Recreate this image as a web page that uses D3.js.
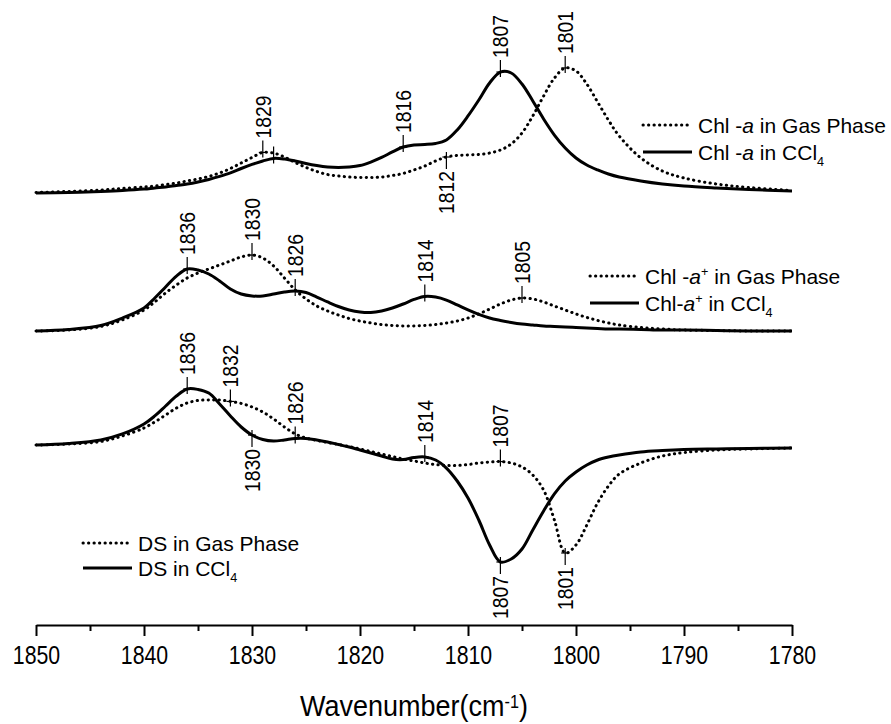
<!DOCTYPE html>
<html>
<head>
<meta charset="utf-8">
<script src="https://cdn.jsdelivr.net/npm/d3@7"></script>
<style>
  body { margin: 0; background: #fff; }
  svg text { font-family: "Liberation Sans", Arial, Helvetica, sans-serif; fill: #000; }
</style>
</head>
<body>
<svg id="chart" width="891" height="724"></svg>
<script>
// Wavenumber grid (cm^-1) shared by every spectrum
const wavenumbers = [1850, 1847, 1844, 1842,
  1840, 1839, 1838, 1837, 1836, 1835, 1834, 1833, 1832, 1831,
  1830, 1829, 1828, 1827, 1826, 1825, 1824, 1823, 1822, 1821,
  1820, 1819, 1818, 1817, 1816, 1815, 1814, 1813, 1812, 1811,
  1810, 1809, 1808, 1807, 1806, 1805, 1804, 1803, 1802, 1801,
  1800, 1799, 1798, 1797, 1796,
  1794, 1792, 1790, 1787, 1784, 1780];

// Chl-a, intensity (a.u.)
const chlaGas = [0.004, 0.013, 0.025, 0.038,
  0.050, 0.058, 0.071, 0.083, 0.100, 0.117, 0.138, 0.167, 0.204, 0.250,
  0.296, 0.338, 0.333, 0.300, 0.254, 0.213, 0.179, 0.154, 0.142, 0.133,
  0.129, 0.129, 0.133, 0.146, 0.163, 0.192, 0.225, 0.267, 0.300, 0.313,
  0.317, 0.321, 0.333, 0.358, 0.408, 0.500, 0.642, 0.808, 0.958, 1.042,
  1.017, 0.908, 0.758, 0.608, 0.475,
  0.292, 0.183, 0.125, 0.075, 0.046, 0.021];
const chlaCCl4 = [0.000, 0.004, 0.013, 0.021,
  0.033, 0.042, 0.050, 0.063, 0.075, 0.092, 0.113, 0.138, 0.167, 0.204,
  0.238, 0.267, 0.288, 0.283, 0.267, 0.246, 0.229, 0.217, 0.213, 0.217,
  0.229, 0.258, 0.296, 0.342, 0.383, 0.400, 0.404, 0.413, 0.442, 0.525,
  0.642, 0.775, 0.917, 1.008, 1.000, 0.908, 0.767, 0.617, 0.483, 0.375,
  0.292, 0.233, 0.192, 0.158, 0.133,
  0.100, 0.075, 0.058, 0.042, 0.029, 0.017];

// Chl-a+ cation, intensity (a.u.)
const chlaPlusGas = [0.000, 0.008, 0.038, 0.092,
  0.175, 0.242, 0.317, 0.383, 0.442, 0.483, 0.517, 0.550, 0.583, 0.617,
  0.633, 0.608, 0.542, 0.442, 0.342, 0.267, 0.208, 0.167, 0.133, 0.104,
  0.083, 0.067, 0.054, 0.046, 0.042, 0.042, 0.046, 0.054, 0.067, 0.083,
  0.108, 0.142, 0.183, 0.225, 0.258, 0.275, 0.267, 0.242, 0.208, 0.175,
  0.142, 0.113, 0.088, 0.067, 0.050,
  0.029, 0.017, 0.008, 0.004, 0.000, 0.000];
const chlaPlusCCl4 = [0.000, 0.013, 0.046, 0.108,
  0.192, 0.275, 0.367, 0.458, 0.517, 0.508, 0.475, 0.417, 0.350, 0.308,
  0.292, 0.292, 0.308, 0.325, 0.333, 0.321, 0.283, 0.242, 0.204, 0.175,
  0.158, 0.154, 0.167, 0.192, 0.225, 0.263, 0.288, 0.283, 0.258, 0.217,
  0.175, 0.138, 0.108, 0.088, 0.071, 0.058, 0.050, 0.042, 0.038, 0.033,
  0.029, 0.025, 0.021, 0.017, 0.017,
  0.013, 0.008, 0.008, 0.004, 0.000, 0.000];

// Difference spectra (DS), intensity (a.u.)
const dsGas = [0.000, 0.008, 0.029, 0.075,
  0.142, 0.192, 0.250, 0.308, 0.350, 0.371, 0.375, 0.375, 0.363, 0.346,
  0.317, 0.275, 0.217, 0.150, 0.092, 0.058, 0.038, 0.021, 0.004, -0.013,
  -0.033, -0.054, -0.075, -0.096, -0.117, -0.133, -0.150, -0.163, -0.171, -0.171,
  -0.163, -0.150, -0.142, -0.138, -0.150, -0.183, -0.250, -0.375, -0.625, -0.900,
  -0.833, -0.667, -0.483, -0.342, -0.242,
  -0.150, -0.092, -0.063, -0.042, -0.033, -0.025];
const dsCCl4 = [0.000, 0.013, 0.042, 0.092,
  0.175, 0.242, 0.325, 0.408, 0.467, 0.463, 0.433, 0.342, 0.242, 0.150,
  0.083, 0.046, 0.033, 0.042, 0.054, 0.054, 0.042, 0.025, 0.004, -0.017,
  -0.042, -0.067, -0.092, -0.117, -0.121, -0.104, -0.100, -0.125, -0.192, -0.300,
  -0.442, -0.625, -0.833, -0.975, -0.950, -0.867, -0.708, -0.550, -0.408, -0.300,
  -0.225, -0.167, -0.125, -0.100, -0.083,
  -0.058, -0.046, -0.038, -0.033, -0.029, -0.025];

// Axis ticks
const majorTicks = [1850, 1840, 1830, 1820, 1810, 1800, 1790, 1780];
const minorTicks = [1845, 1835, 1825, 1815, 1805, 1795, 1785];

// Legend entries per panel (dotted = gas phase, solid = CCl4)
const legendGas = [
  [{t: "Chl -"}, {t: "a", it: true}, {t: " in Gas Phase"}],
  [{t: "Chl -"}, {t: "a", it: true}, {t: "+", sup: true}, {t: " in Gas Phase"}],
  [{t: "DS in Gas Phase"}]
];
const legendCCl4 = [
  [{t: "Chl -"}, {t: "a", it: true}, {t: " in CCl"}, {t: "4", sub: true}],
  [{t: "Chl-"}, {t: "a", it: true}, {t: "+", sup: true}, {t: " in CCl"}, {t: "4", sub: true}],
  [{t: "DS in CCl"}, {t: "4", sub: true}]
];

// Band positions marked on the spectra
const bandPanel  = [0, 0, 0, 0, 0, 0, 1, 1, 1, 1, 1, 2, 2, 2, 2, 2, 2, 2, 2];
const bandSeries = ["gas", "ccl4", "ccl4", "gas", "ccl4", "gas",
                    "ccl4", "gas", "ccl4", "ccl4", "gas",
                    "ccl4", "gas", "ccl4", "ccl4", "ccl4", "gas", "ccl4", "gas"];
const bandWn     = [1829, 1828, 1816, 1812, 1807, 1801,
                    1836, 1830, 1826, 1814, 1805,
                    1836, 1832, 1830, 1826, 1814, 1807, 1807, 1801];
const bandSide   = ["up", "up", "up", "down", "up", "up",
                    "up", "up", "up", "up", "up",
                    "up", "up", "down", "up", "up", "up", "down", "down"];
const bandShowLabel = [true, false, true, true, true, true,
                       true, true, true, true, true,
                       true, true, true, true, true, true, true, true];

// ---- layout ----
const svg = d3.select("#chart");
const x = d3.scaleLinear().domain([1850, 1780]).range([36, 792]);
const y = d3.scaleLinear().domain([0, 5.2083]).range([625, 0]);

const panels = [
  {gas: chlaGas, ccl4: chlaCCl4, offset: 3.6, legend: {x: 643, y: 125, gap: 27}},
  {gas: chlaPlusGas, ccl4: chlaPlusCCl4, offset: 2.45, legend: {x: 590, y: 276, gap: 27}},
  {gas: dsGas, ccl4: dsCCl4, offset: 1.5, legend: {x: 83, y: 543, gap: 25}}
];

const lineGen = off => d3.line()
  .x((d, i) => x(wavenumbers[i]))
  .y(d => y(d + off))
  .curve(d3.curveCatmullRom.alpha(0.5));

const dotted = sel => sel.attr("fill", "none").attr("stroke", "#000")
  .attr("stroke-width", 3).attr("stroke-linecap", "round")
  .attr("stroke-dasharray", "0.3 5.2");
const solid = sel => sel.attr("fill", "none").attr("stroke", "#000")
  .attr("stroke-width", 3).attr("stroke-linejoin", "round");

function richText(sel, parts, size) {
  let shift = 0;
  parts.forEach(p => {
    const ts = sel.append("tspan").text(p.t);
    let target = 0;
    if (p.sup) { target = -8; ts.attr("font-size", size * 0.6); }
    if (p.sub) { target = 6; ts.attr("font-size", size * 0.6); }
    if (p.it) ts.attr("font-style", "italic");
    if (target !== shift) { ts.attr("dy", target - shift); shift = target; }
  });
}

panels.forEach((p, k) => {
  svg.append("path").datum(p.gas).attr("d", lineGen(p.offset)).call(dotted);
  svg.append("path").datum(p.ccl4).attr("d", lineGen(p.offset)).call(solid);

  const L = p.legend, len = 49, fs = 21;
  svg.append("line").attr("x1", L.x).attr("x2", L.x + len)
    .attr("y1", L.y).attr("y2", L.y).call(dotted);
  svg.append("line").attr("x1", L.x).attr("x2", L.x + len)
    .attr("y1", L.y + L.gap).attr("y2", L.y + L.gap).call(solid);
  richText(svg.append("text").attr("x", L.x + len + 6).attr("y", L.y + 7.5)
    .attr("font-size", fs), legendGas[k], fs);
  richText(svg.append("text").attr("x", L.x + len + 6).attr("y", L.y + L.gap + 7.5)
    .attr("font-size", fs), legendCCl4[k], fs);
});

// band markers and their wavenumber labels
const bandG = svg.append("g");
bandWn.forEach((wn, i) => {
  const p = panels[bandPanel[i]];
  const vals = bandSeries[i] === "gas" ? p.gas : p.ccl4;
  const idx = wavenumbers.indexOf(wn);
  const px = x(wn), py = y(vals[idx] + p.offset);
  const up = bandSide[i] === "up";
  bandG.append("line").attr("x1", px).attr("x2", px)
    .attr("y1", up ? py - 12 : py - 5).attr("y2", up ? py + 5 : py + 12)
    .attr("stroke", "#000").attr("stroke-width", 1.2);
  bandG.append("line").attr("x1", px - 4).attr("x2", px + 4)
    .attr("y1", py).attr("y2", py)
    .attr("stroke", "#000").attr("stroke-width", 1.2);
  if (bandShowLabel[i]) {
    const ty = up ? py - 14 : py + 14;
    bandG.append("text")
      .attr("transform", `translate(${px},${ty}) rotate(-90) scale(0.88,1)`)
      .attr("text-anchor", up ? "start" : "end")
      .attr("dy", "0.36em")
      .attr("font-size", 22)
      .text(wn);
  }
});

// x axis
const axisY = y(0);
const ax = svg.append("g").attr("transform", `translate(0,${axisY})`)
  .call(d3.axisBottom(x).tickValues(majorTicks).tickSize(11).tickSizeOuter(0)
    .tickFormat(d3.format("d")));
ax.select(".domain").attr("stroke", "#000").attr("stroke-width", 2);
ax.selectAll(".tick line").attr("stroke", "#000").attr("stroke-width", 2);
ax.selectAll(".tick text").attr("y", 21).attr("dy", "0.71em")
  .attr("font-size", 26).attr("font-family", null)
  .attr("transform", "scale(0.82,1)");

const axMinor = svg.append("g").attr("transform", `translate(0,${axisY})`)
  .call(d3.axisBottom(x).tickValues(minorTicks).tickSize(6).tickSizeOuter(0)
    .tickFormat(""));
axMinor.select(".domain").remove();
axMinor.selectAll(".tick line").attr("stroke", "#000").attr("stroke-width", 2);

const title = svg.append("text")
  .attr("transform", `translate(${(x(1850) + x(1780)) / 2},716) scale(0.9,1)`)
  .attr("text-anchor", "middle").attr("font-size", 30);
richText(title, [{t: "Wavenumber(cm"}, {t: "-1", sup: true}, {t: ")"}], 30);
</script>
</body>
</html>
